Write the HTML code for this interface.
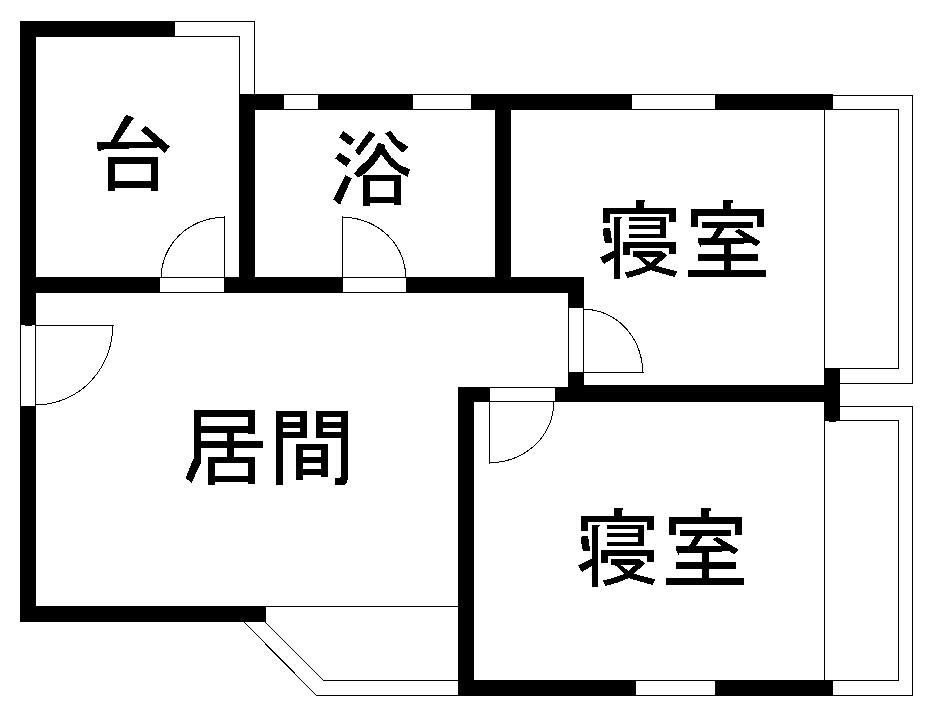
<!DOCTYPE html>
<html><head><meta charset="utf-8"><style>
html,body{margin:0;padding:0;background:#fff;width:944px;height:720px;overflow:hidden;font-family:"Liberation Sans",sans-serif}
svg{display:block}
</style></head><body>
<svg width="944" height="720" viewBox="0 0 944 720" shape-rendering="crispEdges">
<rect width="944" height="720" fill="#fff"/>
<rect x="20" y="21" width="155" height="16"/>
<rect x="20" y="21" width="16" height="601"/>
<rect x="20" y="606" width="246" height="16"/>
<rect x="20" y="277" width="564" height="16"/>
<rect x="239" y="94" width="16" height="199"/>
<rect x="239" y="94" width="594" height="16"/>
<rect x="495" y="94" width="16" height="199"/>
<rect x="568" y="277" width="16" height="125"/>
<rect x="458" y="387" width="110" height="15"/>
<rect x="584" y="385" width="256" height="17"/>
<rect x="824" y="368" width="16" height="53"/>
<rect x="458" y="387" width="16" height="309"/>
<rect x="458" y="680" width="375" height="16"/>
<rect x="175" y="21" width="80" height="1"/>
<rect x="254" y="21" width="1" height="73"/>
<rect x="175" y="36" width="65" height="1"/>
<rect x="239" y="36" width="1" height="58"/>
<rect x="833" y="95" width="80" height="1"/>
<rect x="912" y="95" width="1" height="289"/>
<rect x="840" y="383" width="73" height="1"/>
<rect x="833" y="109" width="66" height="1"/>
<rect x="898" y="109" width="1" height="260"/>
<rect x="824" y="368" width="75" height="1"/>
<rect x="824" y="110" width="1" height="259"/>
<rect x="840" y="406" width="73" height="1"/>
<rect x="912" y="406" width="1" height="290"/>
<rect x="833" y="695" width="80" height="1"/>
<rect x="840" y="420" width="59" height="1"/>
<rect x="898" y="420" width="1" height="261"/>
<rect x="833" y="680" width="66" height="1"/>
<rect x="824" y="421" width="1" height="260"/>
<rect x="266" y="606" width="192" height="1"/>
<rect x="323" y="680" width="135" height="1"/>
<rect x="316" y="695" width="142" height="1"/>
<rect x="36" y="325" width="78" height="1"/>
<rect x="224" y="216" width="1" height="61"/>
<rect x="342" y="216" width="1" height="61"/>
<rect x="584" y="372" width="60" height="1"/>
<rect x="489" y="402" width="1" height="62"/>
<rect x="160" y="278" width="64" height="14" fill="#fff"/>
<rect x="343" y="278" width="63" height="14" fill="#fff"/>
<rect x="284" y="95" width="34" height="14" fill="#fff"/>
<rect x="413" y="95" width="58" height="14" fill="#fff"/>
<rect x="632" y="95" width="83" height="14" fill="#fff"/>
<rect x="569" y="308" width="14" height="64" fill="#fff"/>
<rect x="490" y="388" width="65" height="13" fill="#fff"/>
<rect x="636" y="681" width="79" height="14" fill="#fff"/>
<rect x="21" y="325" width="14" height="81" fill="#fff"/>
<rect x="25" y="325" width="7" height="1"/>
<rect x="829" y="421" width="7" height="1"/>
<path d="M265.5 622.5L323.5 680.5 M244.5 622.5L316.5 695.5 M112.75 325.50L112.59 330.68L112.10 335.84L111.28 340.96L110.15 346.01L108.70 350.97L106.95 355.83L104.89 360.55L102.53 365.12L99.90 369.53L96.99 373.74L93.83 377.75L90.42 381.54L86.78 385.08L82.92 388.37L78.86 391.39L74.62 394.13L70.22 396.58L65.68 398.72L61.01 400.54L56.23 402.05L51.38 403.23L46.45 404.07L41.49 404.58L36.50 404.75 M224.50 217.25L220.36 217.38L216.24 217.77L212.16 218.41L208.13 219.30L204.17 220.45L200.30 221.84L196.53 223.46L192.88 225.32L189.36 227.40L186.00 229.70L182.80 232.20L179.78 234.90L176.95 237.77L174.32 240.82L171.91 244.03L169.72 247.37L167.77 250.85L166.06 254.44L164.61 258.13L163.41 261.91L162.47 265.75L161.79 269.64L161.39 273.56L161.25 277.50 M342.50 217.25L346.64 217.38L350.76 217.77L354.84 218.41L358.87 219.30L362.83 220.45L366.70 221.84L370.47 223.46L374.12 225.32L377.64 227.40L381.00 229.70L384.20 232.20L387.22 234.90L390.05 237.77L392.68 240.82L395.09 244.03L397.28 247.38L399.23 250.85L400.94 254.44L402.39 258.13L403.59 261.91L404.53 265.75L405.21 269.64L405.61 273.56L405.75 277.50 M583.50 309.25L587.38 309.39L591.23 309.79L595.06 310.47L598.84 311.41L602.55 312.61L606.17 314.06L609.71 315.77L613.12 317.72L616.42 319.91L619.57 322.32L622.57 324.95L625.40 327.78L628.05 330.80L630.51 334.00L632.76 337.36L634.81 340.88L636.64 344.53L638.24 348.30L639.61 352.17L640.73 356.13L641.61 360.16L642.24 364.24L642.62 368.36L642.75 372.50 M553.75 402.50L553.61 406.44L553.20 410.36L552.52 414.25L551.56 418.09L550.34 421.87L548.86 425.56L547.12 429.15L545.14 432.62L542.92 435.97L540.47 439.18L537.81 442.23L534.93 445.10L531.86 447.80L528.61 450.30L525.20 452.60L521.62 454.68L517.92 456.54L514.09 458.16L510.15 459.55L506.13 460.70L502.03 461.59L497.89 462.23L493.70 462.62L489.50 462.75" fill="none" stroke="#000" stroke-width="1"/>
<path fill="#000" d="M126.2 115L130 116L134 118.25L131.5 121L118.1 141.5L110.9 141.5L124 118L125 116ZM97 142L154 142L154 148L129 148L129 148.9L104 148.9L104 150.3L98 150.75L97 147.5ZM141.25 130.4L145.9 126L170 146.7L164.4 152.9ZM150 141.5L158 141.5L160 147.3L150 148ZM108 157L158 157L158 164L108 164ZM108 157L115 157L115 191L108 191ZM151 157L158 157L158 191L151 191ZM108 181L158 181L158 188L108 188ZM339.06 137.4L343.4 131L354.7 139.6L350.3 145.8ZM335 158.3L339.7 153L350.9 159.9L346.6 166.75ZM355 150.8L369.4 131L375.6 134.25L373.75 136.75L358.75 155.8ZM385 133.3L390.6 131L397.5 139.9L408.1 146.75L408.1 147.4L403.1 152.7L400 150.5L392.5 143L386.25 134.25ZM378.1 142.4L385.6 145.2L381.25 154.25L375.6 162.4L365.6 173L357.8 177.8L354.1 173.1L360 166.75L368.1 159.25L374.4 151.1ZM384 146.75L391.25 157.4L400 165L409.4 169.25L410 169.4L407.5 176.9L406.25 176.25L400 173L389.4 164.9L381.25 154.25ZM333.1 199.4L345.3 175L351.6 178.4L340 204.7ZM363 175L401 175L401 181L363 181ZM363 175L370 175L370 206L363 206ZM394 175L401 175L401 204.7L394 204.7ZM363 197L401 197L401 203L363 203ZM636 200L644 200L644 209L636 209ZM644 200L645 200L645 202L644 202ZM603 208L676 208L676 214L603 214ZM603 214L610 214L610 222.6L603 222.6ZM669 214L676 214L676 222L669 222ZM614 217L622 217L620 219.5L620 279L614 279ZM603 228.8L605 228L610 228L612 241L612 242.6L607 242.6L605 243.7L603.5 236ZM600 257.3L602 256.5L614 250.75L614 258L606 262.5L604.2 264L602 261ZM629 217L666 217L666 221L629 221ZM629 225L660 225L660 229L629 229ZM629 234L666 234L666 238L629 238ZM660 217L666 217L666 238L660 238ZM623 242L676 242L676 248L623 248ZM623 248L630 248L630 255L623 255ZM669 248L676 248L676 254L669 254ZM633 251L661.6 251L666.9 255.4L665.5 257L633 257ZM636.75 257L642.8 257L650.3 262.9L656 265.75L676.9 271.4L676 274L674.7 277L650.6 270.1L645 264ZM661.6 251L666.9 255.4L656 265.75L650.6 270.1L640 274.5L627.4 277.9L624.9 272.6L638 269L645 266.5L650.3 262.9L657.2 257ZM723 200L731 200L731 210L723 210ZM731 200L733 200L733 203L731 203ZM691 209.2L764 209.2L764 215.8L691 215.8ZM691 215L698 215L698 227L691 227ZM757.2 215L764 215L764 227L757.2 227ZM702 222L753 222L753 227.75L702 227.75ZM717.2 227.75L725 227.75L717.8 238L711 238ZM698 238L744 238L744 243.6L724 244.5L702 244.8L700.3 247L699 244L698 242ZM735 231.4L738.75 228.6L761 242L756.25 246.7L751.9 243.25L744 243.5L744 238L735 231.7ZM724 244L731 244L731 270L724 270ZM698 254L757.8 254L757.8 261L698 261ZM688 270L766 270L766 277L688 277ZM194 410L255 410L255 417L194 417ZM194 410L201 410L201 463.4L194 459ZM194 426L255 426L255 433L194 433ZM248 410L255 410L255 433.75L248 433.75ZM193.3 459L201 459L201 463.4L191.4 482.8L186 478.5L186.1 476.6ZM201 441L263 441L263 448L201 448ZM227 433L234 433L234 457L227 457ZM208 457L255 457L255 463L208 463ZM208 457L215 457L215 484.7L208 484.7ZM248 457L255 457L255 483.75L248 483.75ZM208 476L255 476L255 482L208 482ZM276 411L307 411L307 417L276 417ZM276 411L283 411L283 484.7L276 484.7ZM276 422L307 422L307 428L276 428ZM276 432L307 432L307 438L276 438ZM300 411L307 411L307 438L300 438ZM316 411L348 411L348 417L316 417ZM316 411L323 411L323 438L316 438ZM316 422L348 422L348 428L316 428ZM316 432L348 432L348 438L316 438ZM341 411L348 411L348 478.75L346.9 482.5L344.7 484.7L335 484.7L335 478.1L340 477.8L341 476.9ZM296 444L328 444L328 450L296 450ZM296 444L303 444L303 479.7L296 479.7ZM321 444L328 444L328 476.9L321 476.9ZM296 457L328 457L328 463L296 463ZM296 469L328 469L328 475L296 475ZM614 508L622 508L622 517L614 517ZM622 508L623 508L623 510L622 510ZM581 516L654 516L654 522L581 522ZM581 522L588 522L588 530.6L581 530.6ZM647 522L654 522L654 530L647 530ZM592 525L600 525L598 527.5L598 587L592 587ZM581 536.8L583 536L588 536L590 549L590 550.6L585 550.6L583 551.7L581.5 544ZM578 565.3L580 564.5L592 558.75L592 566L584 570.5L582.2 572L580 569ZM607 525L644 525L644 529L607 529ZM607 533L638 533L638 537L607 537ZM607 542L644 542L644 546L607 546ZM638 525L644 525L644 546L638 546ZM601 550L654 550L654 556L601 556ZM601 556L608 556L608 563L601 563ZM647 556L654 556L654 562L647 562ZM611 559L639.6 559L644.9 563.4L643.5 565L611 565ZM614.75 565L620.8 565L628.3 570.9L634 573.75L654.9 579.4L654 582L652.7 585L628.6 578.1L623 572ZM639.6 559L644.9 563.4L634 573.75L628.6 578.1L618 582.5L605.4 585.9L602.9 580.6L616 577L623 574.5L628.3 570.9L635.2 565ZM701 508L709 508L709 518L701 518ZM709 508L711 508L711 511L709 511ZM669 517.2L742 517.2L742 523.8L669 523.8ZM669 523L676 523L676 535L669 535ZM735.2 523L742 523L742 535L735.2 535ZM680 530L731 530L731 535.75L680 535.75ZM695.2 535.75L703 535.75L695.8 546L689 546ZM676 546L722 546L722 551.6L702 552.5L680 552.8L678.3 555L677 552L676 550ZM713 539.4L716.75 536.6L739 550L734.25 554.7L729.9 551.25L722 551.5L722 546L713 539.7ZM702 552L709 552L709 578L702 578ZM676 562L735.8 562L735.8 569L676 569ZM666 578L744 578L744 585L666 585Z"/>
</svg>
</body></html>
